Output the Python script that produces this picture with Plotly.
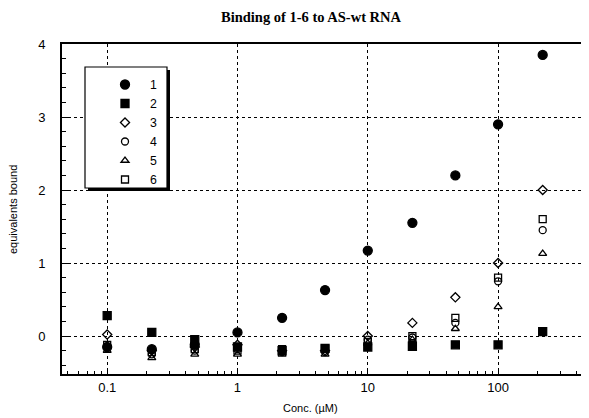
import plotly.graph_objects as go
import math

conc = [0.1, 0.22, 0.47, 1, 2.2, 4.7, 10, 22, 47, 100, 220]
s1 = [-0.15, -0.18, -0.12, 0.05, 0.25, 0.63, 1.17, 1.55, 2.2, 2.9, 3.85]
s2 = [0.28, 0.05, -0.05, -0.15, -0.2, -0.17, -0.15, -0.14, -0.12, -0.12, 0.06]
s3 = [0.02, -0.2, -0.15, -0.12, -0.2, -0.2, 0.0, 0.18, 0.53, 1.0, 2.0]
s4 = [-0.15, -0.25, -0.2, -0.18, -0.22, -0.22, -0.05, -0.02, 0.18, 0.75, 1.45]
s5 = [-0.2, -0.3, -0.25, -0.25, -0.25, -0.25, -0.1, -0.05, 0.1, 0.4, 1.13]
s6 = [-0.12, -0.22, -0.18, -0.2, -0.18, -0.18, -0.08, 0.0, 0.25, 0.8, 1.6]

names = ["1", "2", "3", "4", "5", "6"]
series = [s1, s2, s3, s4, s5, s6]
x_tick_vals = [0.1, 1, 10, 100]
x_tick_text = ["0.1", "1", "10", "100"]
y_tick_vals = [0, 1, 2, 3, 4]

symbols = ["circle", "square", "diamond-open", "circle-open", "triangle-up-open", "square-open"]
sizes = [9, 8, 7, 7, 7, 7]

# page has an 8px body margin; figure is sized so plot lands where the reference has it
OFF = 8
W, H = 589 - OFF, 418 - OFF
PL, PR, PT, PB = 62, 588, 44, 374   # plot area in page pixels
L, T = PL - OFF, PT - OFF
R = W - (PR - OFF)
B = H - (PB - OFF)
PW, PH = PR - PL, PB - PT


def px(xp):
    return (xp - PL) / PW


def py(yp):
    return (PB - yp) / PH


minor_x = [k * 10 ** e for e in range(-2, 3) for k in range(2, 10)]

fig = go.Figure()
for name, ys, sym, sz in zip(names, series, symbols, sizes):
    fig.add_trace(go.Scatter(
        x=conc, y=ys, mode="markers", name=name,
        marker=dict(symbol=sym, size=sz, color="black", line=dict(color="black", width=1.3)),
    ))

shapes = [
    # legend shadow and box
    dict(type="rect", xref="paper", yref="paper", layer="above",
         x0=px(88), x1=px(170), y0=py(191), y1=py(70),
         fillcolor="black", line=dict(width=0)),
    dict(type="rect", xref="paper", yref="paper", layer="above",
         x0=px(85), x1=px(167), y0=py(188), y1=py(67),
         fillcolor="white", line=dict(color="black", width=1.2)),
]

fig.update_layout(
    width=W, height=H,
    margin=dict(l=L, r=R, t=T, b=B),
    paper_bgcolor="white", plot_bgcolor="white",
    font=dict(family="Liberation Sans, Arial, sans-serif", color="black", size=13),
    title=dict(text="<b>Binding of 1-6 to AS-wt RNA</b>", x=(311 - OFF) / W, xanchor="center",
               y=1 - (17 - OFF) / H, yanchor="middle",
               font=dict(family="Liberation Serif, Times New Roman, serif", size=14.5)),
    showlegend=True,
    legend=dict(x=px(100), y=py(70), xanchor="left", yanchor="top",
                borderwidth=0, bgcolor="rgba(0,0,0,0)",
                font=dict(size=12.3), itemwidth=40, tracegroupgap=0),
    shapes=shapes,
    xaxis=dict(type="log", range=[math.log10(0.045), math.log10(490)],
               tickvals=x_tick_vals, ticktext=x_tick_text,
               ticks="inside", ticklen=6, tickcolor="black",
               showline=True, linecolor="black", linewidth=2, mirror=True,
               showgrid=True, gridcolor="black", griddash="dot", gridwidth=1,
               minor=dict(ticks="inside", ticklen=3, tickcolor="black", showgrid=False,
                          tickvals=minor_x),
               tickfont=dict(size=13), zeroline=False),
    yaxis=dict(range=[-0.52, 4.0], tickvals=y_tick_vals,
               ticks="inside", ticklen=6, tickcolor="black",
               showline=True, linecolor="black", linewidth=2,
               showgrid=True, gridcolor="black", griddash="dot", gridwidth=1,
               minor=dict(ticks="inside", ticklen=4, dtick=0.2, tickcolor="black", showgrid=False),
               tickfont=dict(size=13), zeroline=False, ticklabelstandoff=12),
    annotations=[
        dict(text="Conc. (µM)", xref="paper", yref="paper", x=px(310), y=py(408),
             xanchor="center", yanchor="middle", showarrow=False, font=dict(size=11)),
        dict(text="equivalents bound", xref="paper", yref="paper", x=px(13), y=py(210),
             xanchor="center", yanchor="middle", textangle=-90, showarrow=False,
             font=dict(size=11)),
    ],
)

fig.write_html("out.html")
